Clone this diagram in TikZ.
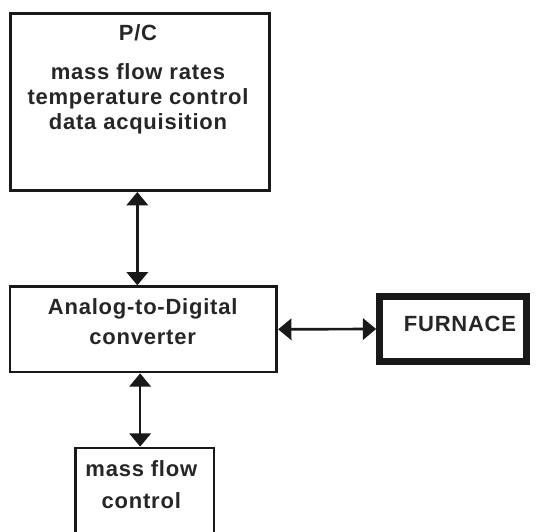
\documentclass[tikz,border=0pt]{standalone}
\usepackage{fontspec}
\newfontfamily\blockfont[LetterSpace=3.5]{Liberation Sans}
\usetikzlibrary{arrows.meta}
\begin{document}
\begin{tikzpicture}[x=1pt, y=-1pt,
    box/.style={draw=black!90, line width=2pt, fill=white, inner sep=0pt},
    heavybox/.style={draw=black!90, line width=5.25pt, fill=white, inner sep=0pt},
    txt/.style={text=black!85, align=center, inner sep=0pt,
        font=\blockfont\bfseries\fontsize{16.5}{18.75}\selectfont},
    link/.style={draw=black!90, line width=2pt,
        {Triangle[width=16pt,length=10pt]}-{Triangle[width=16pt,length=10pt]}}]

    % Fix the page to the reference size
    \clip (0,0) rectangle (402,399);
    \fill[white] (0,0) rectangle (402,399);

    % Draw the blocks
    \node[box, minimum width=194pt, minimum height=133pt] (pc) at (105,76.5) {};
    \node[box, minimum width=200pt, minimum height=64pt] (adc) at (107.6,247) {};
    \node[heavybox, minimum width=110pt, minimum height=48.75pt] (furnace) at (339.75,246.75) {};
    \node[box, minimum width=104pt, minimum height=100pt] (mf) at (108.4,386) {};

    % Add the texts inside the blocks
    \node[txt] (pctext) at (103.5,59.5) {P/C\\[11pt]mass flow rates\\temperature control\\data acquisition};
    \node[txt, font=\blockfont\bfseries\fontsize{16.5}{22.5}\selectfont] (adctext) at (107,241) {Analog-to-Digital\\converter};
    \node[txt] (furnacetext) at (345,243) {FURNACE};
    \node[txt, font=\blockfont\bfseries\fontsize{16.5}{24}\selectfont] (mftext) at (106,363.5) {mass flow\\control};

    % Connect the blocks with double arrows
    \draw[link] ([xshift=-2pt]pc.south) -- ([xshift=-2pt]pc.south |- adc.north);
    \draw[link] ([xshift=-2.5pt]adc.south) -- ([xshift=-2.5pt]adc.south |- mf.north);
    \draw[link] (adc.east) -- (furnace.west);
\end{tikzpicture}
\end{document}
